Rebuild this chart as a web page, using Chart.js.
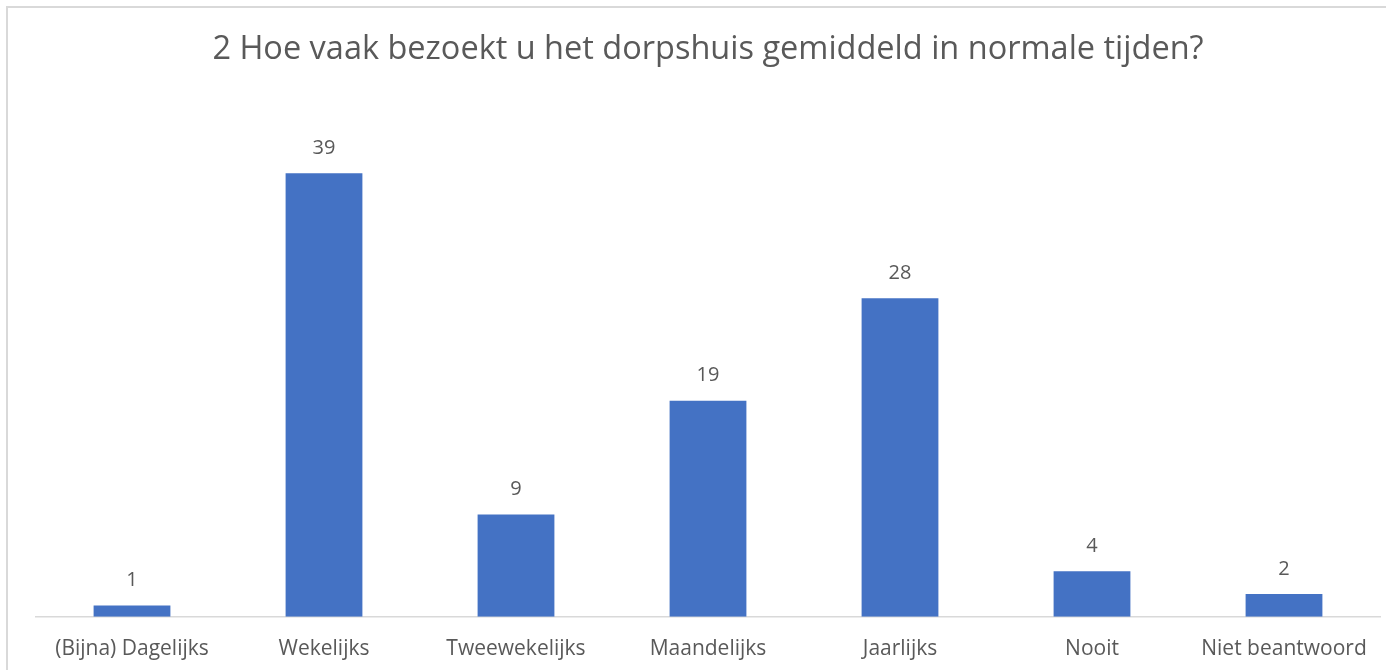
<!DOCTYPE html>
<html>
<head>
<meta charset="utf-8">
<script src="https://cdn.jsdelivr.net/npm/chart.js@4/dist/chart.umd.min.js"></script>
<style>
  html, body { margin: 0; padding: 0; background: #fff; }
  #wrap { position: relative; width: 1386px; height: 670px; overflow: hidden; }
  #frame { position: absolute; left: 6px; top: 6px; width: 1400px; height: 700px; border: 2px solid #d9d9d9; box-sizing: border-box; }
  canvas { position: absolute; left: 0; top: 0; }
</style>
</head>
<body>
<div id="wrap">
  <div id="frame"></div>
  <canvas id="chart" width="1386" height="686"></canvas>
</div>
<script>
const categories = ["(Bijna) Dagelijks", "Wekelijks", "Tweewekelijks", "Maandelijks", "Jaarlijks", "Nooit", "Niet beantwoord"];
const counts = [1, 39, 9, 19, 28, 4, 2];
const titleText = "2 Hoe vaak bezoekt u het dorpshuis gemiddeld in normale tijden?";

const fontFamily = "'Open Sans', 'Noto Sans', sans-serif";
const textColor = "#595959";

// simple data labels above each bar
const barLabels = {
    id: 'barLabels',
    afterDatasetsDraw(chart) {
        const ctx = chart.ctx;
        const meta = chart.getDatasetMeta(0);
        ctx.save();
        ctx.font = "20px " + fontFamily;
        ctx.fillStyle = textColor;
        ctx.textAlign = "center";
        ctx.textBaseline = "middle";
        meta.data.forEach((bar, i) => {
            ctx.fillText(String(chart.data.datasets[0].data[i]), bar.x, bar.y - 25);
        });
        ctx.restore();
    }
};

const canvas = document.getElementById('chart');
new Chart(canvas, {
    type: 'bar',
    data: {
        labels: categories,
        datasets: [{
            label: "Aantal",
            data: counts,
            backgroundColor: "#4472c4",
            borderWidth: 0,
            categoryPercentage: 1,
            barPercentage: 0.4
        }]
    },
    options: {
        responsive: false,
        animation: false,
        layout: { padding: { left: 36, right: 6, top: 0, bottom: 12 } },
        plugins: {
            legend: { display: false },
            tooltip: { enabled: false },
            title: {
                display: true,
                text: titleText,
                color: textColor,
                font: { family: fontFamily, size: 32.5, weight: 'normal' },
                padding: { top: 30.5, bottom: 35.5 }
            }
        },
        scales: {
            y: { display: false, min: 0, max: 45 },
            x: {
                grid: { display: false },
                border: { display: true, color: "#d9d9d9", width: 1.5 },
                ticks: {
                    color: textColor,
                    font: { family: fontFamily, size: 21 },
                    padding: 12,
                    maxRotation: 0
                }
            }
        }
    },
    plugins: [barLabels]
});
</script>
</body>
</html>
